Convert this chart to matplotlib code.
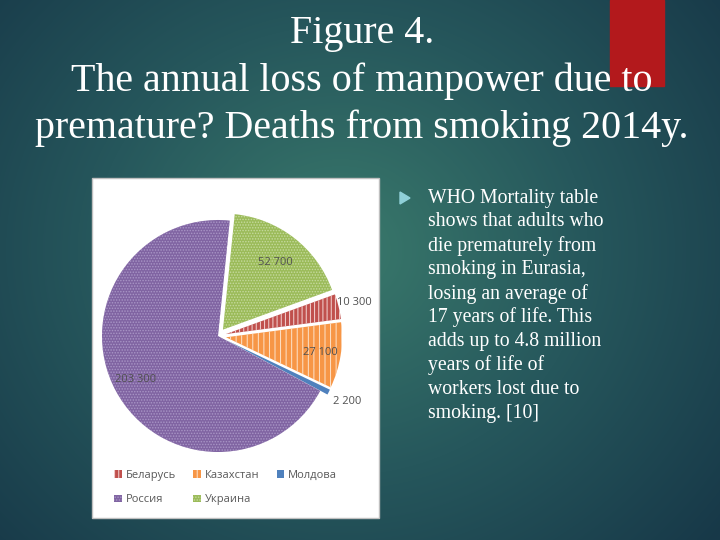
import numpy as np
import matplotlib
matplotlib.use("Agg")
import matplotlib.pyplot as plt
from matplotlib.colors import LinearSegmentedColormap
from matplotlib.patches import Rectangle, Polygon

# data
countries = ["Беларусь", "Казахстан", "Молдова", "Россия", "Украина"]
losses = [10300, 27100, 2200, 203300, 52700]
label_texts = ["10 300", "27 100", "2 200", "203 300", "52 700"]

title_lines = ["Figure 4.",
               "The annual loss of manpower due to",
               "premature? Deaths from smoking 2014y."]
body_lines = ["WHO Mortality table", "shows that adults who",
              "die prematurely from", "smoking in Eurasia,",
              "losing an average of", "17 years of life. This",
              "adds up to 4.8 million", "years of life of",
              "workers lost due to", "smoking. [10]"]

# style
face_colors = ["#c0504d", "#f79646", "#4f81bd", "#8064a2", "#9bbb59"]
hatch_colors = ["#f3d6d5", "#fde3cc", "#8fb0da", "#a996c6", "#c6da9f"]
hatches = ["||||", "|||", "", "......", "......"]
explode = [0.07, 0.07, 0.07, 0.0, 0.07]
label_dist = [1.14, 0.82, 1.18, 0.80, 0.73]

plt.rcParams["hatch.linewidth"] = 0.7

W, H = 720, 540
fig = plt.figure(figsize=(7.2, 5.4), dpi=100)

def fx(px):
    return px / W

def fy(py):
    return 1 - py / H

# background gradient
bg = fig.add_axes([0, 0, 1, 1])
yy, xx = np.mgrid[0:H, 0:W]
d = np.sqrt(((xx - 340) / 1.1) ** 2 + (yy - 250) ** 2)
d = np.clip(d / 460, 0, 1)
cmap = LinearSegmentedColormap.from_list("bg", ["#3a7a6c", "#26575c", "#173848"])
bg.imshow(d, cmap=cmap, extent=[0, W, H, 0], aspect="auto")
bg.set_xlim(0, W)
bg.set_ylim(H, 0)
bg.axis("off")

# red tab
bg.add_patch(Rectangle((610, 0), 54, 86, color="#b3191c", zorder=2))

# title
for i, line in enumerate(title_lines):
    bg.text(362, 34 + i * 47, line, ha="center", va="center", color="white",
            fontsize=28.8, family="Liberation Serif", zorder=3)

# bullet + body text
bg.add_patch(Polygon([[400, 192], [400, 204], [410, 198]], closed=True,
                     color="#8fd0d8", zorder=3))
for i, line in enumerate(body_lines):
    bg.text(428, 198 + i * 23.9, line, ha="left", va="center", color="white",
            fontsize=14.2, family="Liberation Serif", zorder=3)

# white chart box
bg.add_patch(Rectangle((92, 178), 287, 340, facecolor="white",
                       edgecolor="#bfbfbf", lw=1.0, zorder=2))

# pie
cx, cy, r = 218, 336, 116
lim = 1.3
side = 2 * lim * r
ax = fig.add_axes([fx(cx - side / 2), fy(cy + side / 2), side / W, side / H])
wedges, _ = ax.pie(losses, startangle=20, counterclock=False, explode=explode,
                   colors=face_colors, radius=1.0,
                   wedgeprops=dict(linewidth=0))
for w, hc, ht in zip(wedges, hatch_colors, hatches):
    w.set_edgecolor(hc)
    w.set_linewidth(0)
    w.set_hatch(ht)

for w, txt, dist, ex in zip(wedges, label_texts, label_dist, explode):
    mid = np.deg2rad((w.theta1 + w.theta2) / 2)
    rr = dist + ex
    ax.text(rr * np.cos(mid), rr * np.sin(mid), txt, ha="center", va="center",
            fontsize=8, color="#505050", family="Open Sans")
ax.set_xlim(-lim, lim)
ax.set_ylim(-lim, lim)
ax.set_aspect("equal")
ax.axis("off")

# legend in row order
order = [0, 3, 1, 4, 2]
leg = fig.legend([wedges[i] for i in order], [countries[i] for i in order],
                 loc="upper left", bbox_to_anchor=(fx(104), fy(460)), ncol=3,
                 frameon=False, handlelength=0.7, handleheight=0.7,
                 handletextpad=0.35, columnspacing=1.55, labelspacing=1.2,
                 prop={"family": "Open Sans", "size": 8})
for t in leg.get_texts():
    t.set_color("#595959")

fig.savefig("out.png", dpi=100)
